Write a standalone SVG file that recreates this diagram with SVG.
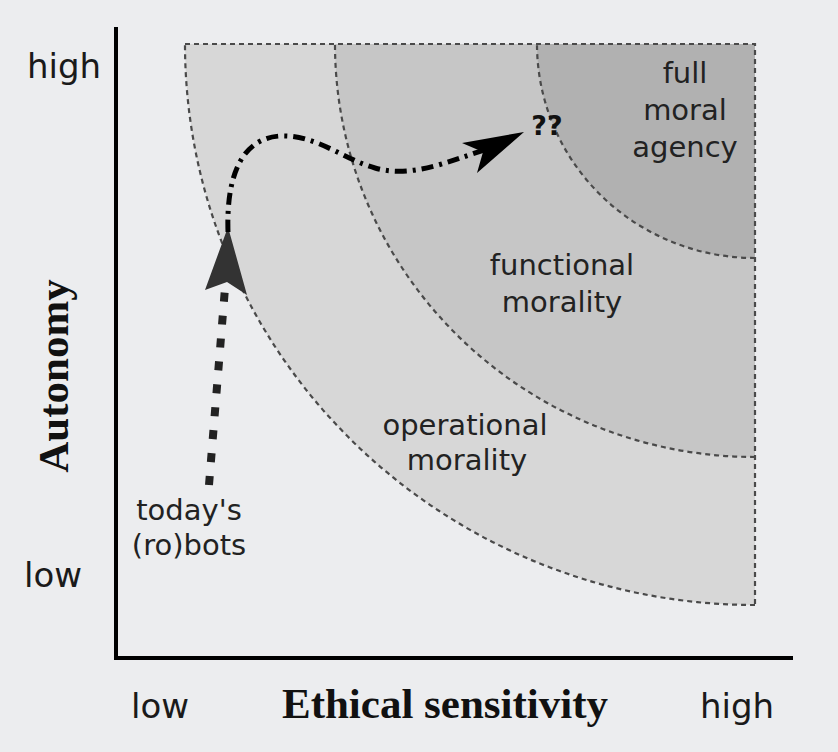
<svg xmlns="http://www.w3.org/2000/svg" width="838" height="752" viewBox="0 0 838 752">
<style>
.bd{fill:none;stroke:#4a4a4a;stroke-width:2.2;stroke-dasharray:5 4}
.lbl{font-family:"DejaVu Sans",sans-serif;font-size:29px;fill:#222;text-anchor:middle}
.ax{font-family:"DejaVu Sans",sans-serif;font-size:34px;fill:#1a1a1a}
.ttl{font-family:"Liberation Serif",serif;font-weight:bold;font-size:43px;fill:#111}
</style>
<rect x="0" y="0" width="838" height="752" fill="#ecedef"/>
<g id="regions">
<g id="operational-region">
<path d="M185,44 L755,44 L755,605 A570,561 0 0,1 185,44 Z" fill="#d7d7d7"/>
</g>
<g id="functional-region">
<path d="M335,44 L755,44 L755,457 A420,413 0 0,1 335,44 Z" fill="#c6c6c6"/>
</g>
<g id="full-region">
<path d="M537,44 L755,44 L755,258 A218,214 0 0,1 537,44 Z" fill="#b1b1b1"/>
</g>
<path class="bd" d="M185,44 L755,44 L755,605"/>
<path class="bd" d="M755,605 A570,561 0 0,1 185,44"/>
<path class="bd" d="M755,457 A420,413 0 0,1 335,44"/>
<path class="bd" d="M755,258 A218,214 0 0,1 537,44"/>
</g>
<g id="axes" stroke="#000" stroke-width="4" fill="none">
<line x1="116" y1="27" x2="116" y2="660"/>
<line x1="114" y1="658" x2="793" y2="658"/>
</g>
<g id="connectors">
<line x1="209" y1="485" x2="225" y2="288" stroke="#222" stroke-width="8" stroke-dasharray="9 14"/>
<polygon points="228,227 247,295 227,282 205,290" fill="#333"/>
<path d="M228,232 C226,170 245,138 280,136 C315,134 345,160 375,168 C410,178 445,163 487,149" fill="none" stroke="#000" stroke-width="5" stroke-dasharray="12 6 3 6"/>
<polygon points="524,132 477,173 483,152 462,143" fill="#000"/>
</g>
<g id="labels">
<text class="ax" x="27" y="78">high</text>
<text class="ax" x="24" y="587">low</text>
<text class="ax" x="131" y="718">low</text>
<text class="ax" x="700" y="718">high</text>
<text class="ttl" x="445" y="718" text-anchor="middle">Ethical sensitivity</text>
<text class="ttl" transform="translate(68,376) rotate(-90)" text-anchor="middle">Autonomy</text>
<g id="full-moral-agency">
<text class="lbl" x="685" y="83">full</text>
<text class="lbl" x="685" y="120">moral</text>
<text class="lbl" x="685" y="157">agency</text>
</g>
<g id="functional-morality">
<text class="lbl" x="562" y="275">functional</text>
<text class="lbl" x="562" y="312">morality</text>
</g>
<g id="operational-morality">
<text class="lbl" x="465" y="435">operational</text>
<text class="lbl" x="467" y="470">morality</text>
</g>
<g id="todays-robots">
<text class="lbl" x="189" y="520">today's</text>
<text class="lbl" x="189" y="555">(ro)bots</text>
</g>
<text x="547" y="135" font-family="DejaVu Sans,sans-serif" font-size="27" font-weight="bold" fill="#111" text-anchor="middle">??</text>
</g>
</svg>
